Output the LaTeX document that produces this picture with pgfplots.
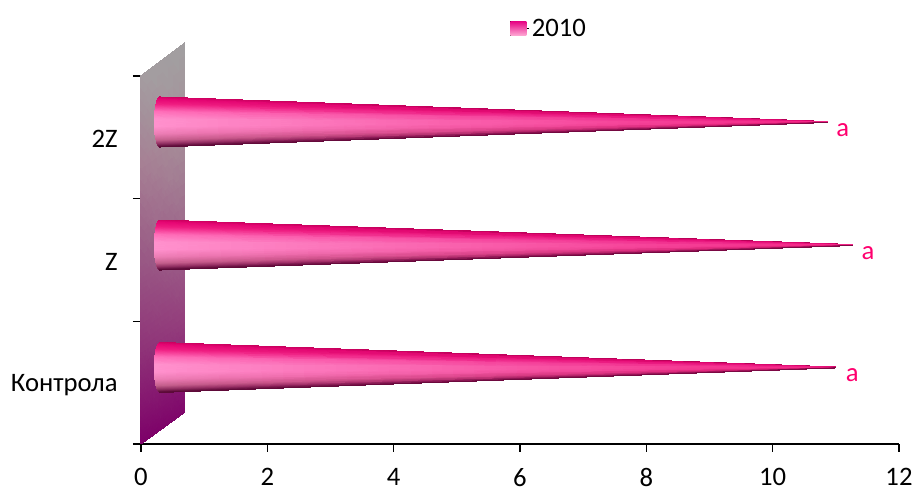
\documentclass[border=0pt]{standalone}
\usepackage{fontspec}
\setmainfont{Carlito}
\usepackage{pgfplots}
\pgfplotsset{compat=1.18}
\definecolor{labelpink}{RGB}{255,0,110}
\definecolor{conecore}{RGB}{228,18,122}
\pgfplotsset{
  cone/.style={surf, shader=interp, mesh/cols=2, forget plot,
    mesh/color input=explicit},
  conebase/.style={fill=conecore, draw=none, forget plot},
}
\newcommand{\chartfont}{\fontsize{20}{22}\selectfont}
\begin{document}
\begin{tikzpicture}
\useasboundingbox (-105.75pt,-33pt) rectangle (580.5pt,333pt);
\begin{axis}[
  scale only axis, width=568.5pt, height=276pt,
  xmin=0, xmax=12, ymin=0, ymax=3,
  clip=false,
  axis x line*=bottom, axis y line*=left,
  x axis line style={black, line width=1.4pt, -},
  y axis line style={black!75, line width=0.8pt, -},
  xtick={0,2,...,12},
  ytick={0,1,2,3}, yticklabels={},
  extra y ticks={0.5,1.5,2.5},
  extra y tick labels={Контрола,Z,2Z},
  extra y tick style={major tick length=0pt,
    yticklabel style={xshift=-14pt, yshift=-1.5pt}},
  tick align=outside, major tick length=6pt,
  tick style={black, line width=1pt},
  xticklabel style={yshift=-8.5pt, text depth=0pt},
  /pgf/number format/assume math mode=true,
  tick label style={font=\chartfont},
  legend style={at={(0.4865,1.129)}, anchor=west, draw=none, fill=none,
    font=\chartfont, inner sep=0pt},
  legend cell align=left,
]
\addlegendimage{legend image code/.code={
  \path (0pt,0pt) -- (14pt,0pt);
  \fill[draw=none, top color={rgb,255:red,230;green,0;blue,130}, middle color={rgb,255:red,240;green,20;blue,130}, bottom color={rgb,255:red,255;green,175;blue,215}]
    (0pt,-5.6pt) rectangle (12pt,5.6pt);}}
\addlegendentry{2010}

% back wall of the plot area
\addplot[cone] table[meta=c] {
x y c
0 0 .49,0,.41
0.696 0.26 .5,.03,.42
0 0.75 .56,.2,.47
0.696 1.0 .58,.25,.49
0 1.5 .6,.35,.52
0.696 1.76 .62,.42,.55
0 2.25 .65,.5,.58
0.696 2.51 .65,.56,.6
0 3 .64,.62,.63
0.696 3.27 .63,.63,.63
};

% cone: Контрола
\addplot[conebase] coordinates {(0.30,0.828) (11.00,0.624) (0.30,0.420)} -- cycle;
\addplot[cone] table[meta=c] {
x y c
0.300 0.828 .804,0,.373
11.00 0.628 .7,0,.33
0.261 0.808 .902,.02,.451
11.00 0.6275 .85,.02,.42
0.236 0.767 .941,.118,.51
11.00 0.6265 .9,.05,.47
0.217 0.706 1,.431,.725
11.00 0.625 .93,.1,.5
0.210 0.644 1,.569,.804
11.00 0.6245 .95,.14,.52
0.212 0.583 1,.569,.804
11.00 0.6235 .95,.14,.52
0.222 0.522 .922,.49,.706
11.00 0.6225 .9,.1,.47
0.241 0.471 .765,.373,.549
11.00 0.6215 .8,.08,.42
0.261 0.440 .549,.176,.373
11.00 0.6205 .65,.06,.35
0.300 0.420 .353,.039,.216
11.00 0.620 .5,.03,.27
};

% cone: Z
\addplot[conebase] coordinates {(0.30,1.826) (11.27,1.622) (0.30,1.418)} -- cycle;
\addplot[cone] table[meta=c] {
x y c
0.300 1.826 .804,0,.373
11.27 1.626 .7,0,.33
0.261 1.806 .902,.02,.451
11.27 1.6255 .85,.02,.42
0.236 1.765 .941,.118,.51
11.27 1.6245 .9,.05,.47
0.217 1.704 1,.431,.725
11.27 1.623 .93,.1,.5
0.210 1.642 1,.569,.804
11.27 1.6225 .95,.14,.52
0.212 1.581 1,.569,.804
11.27 1.6215 .95,.14,.52
0.222 1.520 .922,.49,.706
11.27 1.6205 .9,.1,.47
0.241 1.469 .765,.373,.549
11.27 1.6195 .8,.08,.42
0.261 1.438 .549,.176,.373
11.27 1.6185 .65,.06,.35
0.300 1.418 .353,.039,.216
11.27 1.618 .5,.03,.27
};

% cone: 2Z
\addplot[conebase] coordinates {(0.30,2.829) (10.87,2.625) (0.30,2.421)} -- cycle;
\addplot[cone] table[meta=c] {
x y c
0.300 2.829 .804,0,.373
10.87 2.629 .7,0,.33
0.261 2.809 .902,.02,.451
10.87 2.6285 .85,.02,.42
0.236 2.768 .941,.118,.51
10.87 2.6275 .9,.05,.47
0.217 2.707 1,.431,.725
10.87 2.626 .93,.1,.5
0.210 2.645 1,.569,.804
10.87 2.6255 .95,.14,.52
0.212 2.584 1,.569,.804
10.87 2.6245 .95,.14,.52
0.222 2.523 .922,.49,.706
10.87 2.6235 .9,.1,.47
0.241 2.472 .765,.373,.549
10.87 2.6225 .8,.08,.42
0.261 2.441 .549,.176,.373
10.87 2.6215 .65,.06,.35
0.300 2.421 .353,.039,.216
10.87 2.621 .5,.03,.27
};

\node[text=labelpink, font=\chartfont] at (axis cs:11.26,0.56) {a};
\node[text=labelpink, font=\chartfont] at (axis cs:11.51,1.555) {a};
\node[text=labelpink, font=\chartfont] at (axis cs:11.11,2.555) {a};
\end{axis}
\end{tikzpicture}
\end{document}
